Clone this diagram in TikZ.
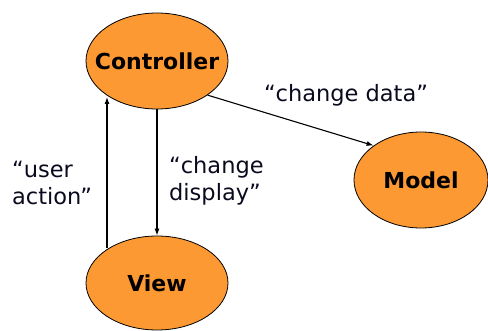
\documentclass[tikz,border=0pt]{standalone}
\usepackage{fontspec}
\setmainfont{DejaVu Sans}
\usetikzlibrary{arrows.meta,shapes.geometric}
\definecolor{mvcorange}{RGB}{253,153,51}
\definecolor{labelink}{RGB}{10,10,30}
\begin{document}
\begin{tikzpicture}[x=1pt,y=-1pt,
  part/.style={ellipse, draw=black, line width=0.8pt, fill=mvcorange,
    inner sep=0pt, font=\fontsize{22}{26}\selectfont\bfseries},
  flow/.style={draw=black, line width=1.1pt, -{Latex[length=7pt,width=5pt]}},
  note/.style={align=left, text=labelink, inner sep=0pt,
    font=\fontsize{22.5}{27}\selectfont}]
  \useasboundingbox (0,0) rectangle (488,331);
  % the three MVC parts (zero-width text box so the ellipse keeps its set size)
  \node[part, minimum width=142pt, minimum height=96pt] (ctrl) at (157,61) {\makebox[0pt]{Controller}};
  \node[part, minimum width=142pt, minimum height=94pt] (view) at (157,283) {\makebox[0pt]{View}};
  \node[part, minimum width=134pt, minimum height=96pt] (model) at (421,180) {\makebox[0pt]{Model}};
  % interactions
  \coordinate (va) at (107,248);
  \coordinate (ca) at (107,97);
  \draw[flow] (va) -- (ca);
  \draw[flow] (ctrl.south) -- (view.north);
  \draw[flow] (ctrl.-34) -- (model.144);
  % labels
  \node[note, anchor=west] (lua) at (12,183) {“user\\action”};
  \node[note, anchor=west] (lcd) at (169,181) {“change\\display”};
  \node[note] (lcda) at (346,95) {“change data”};
\end{tikzpicture}
\end{document}
